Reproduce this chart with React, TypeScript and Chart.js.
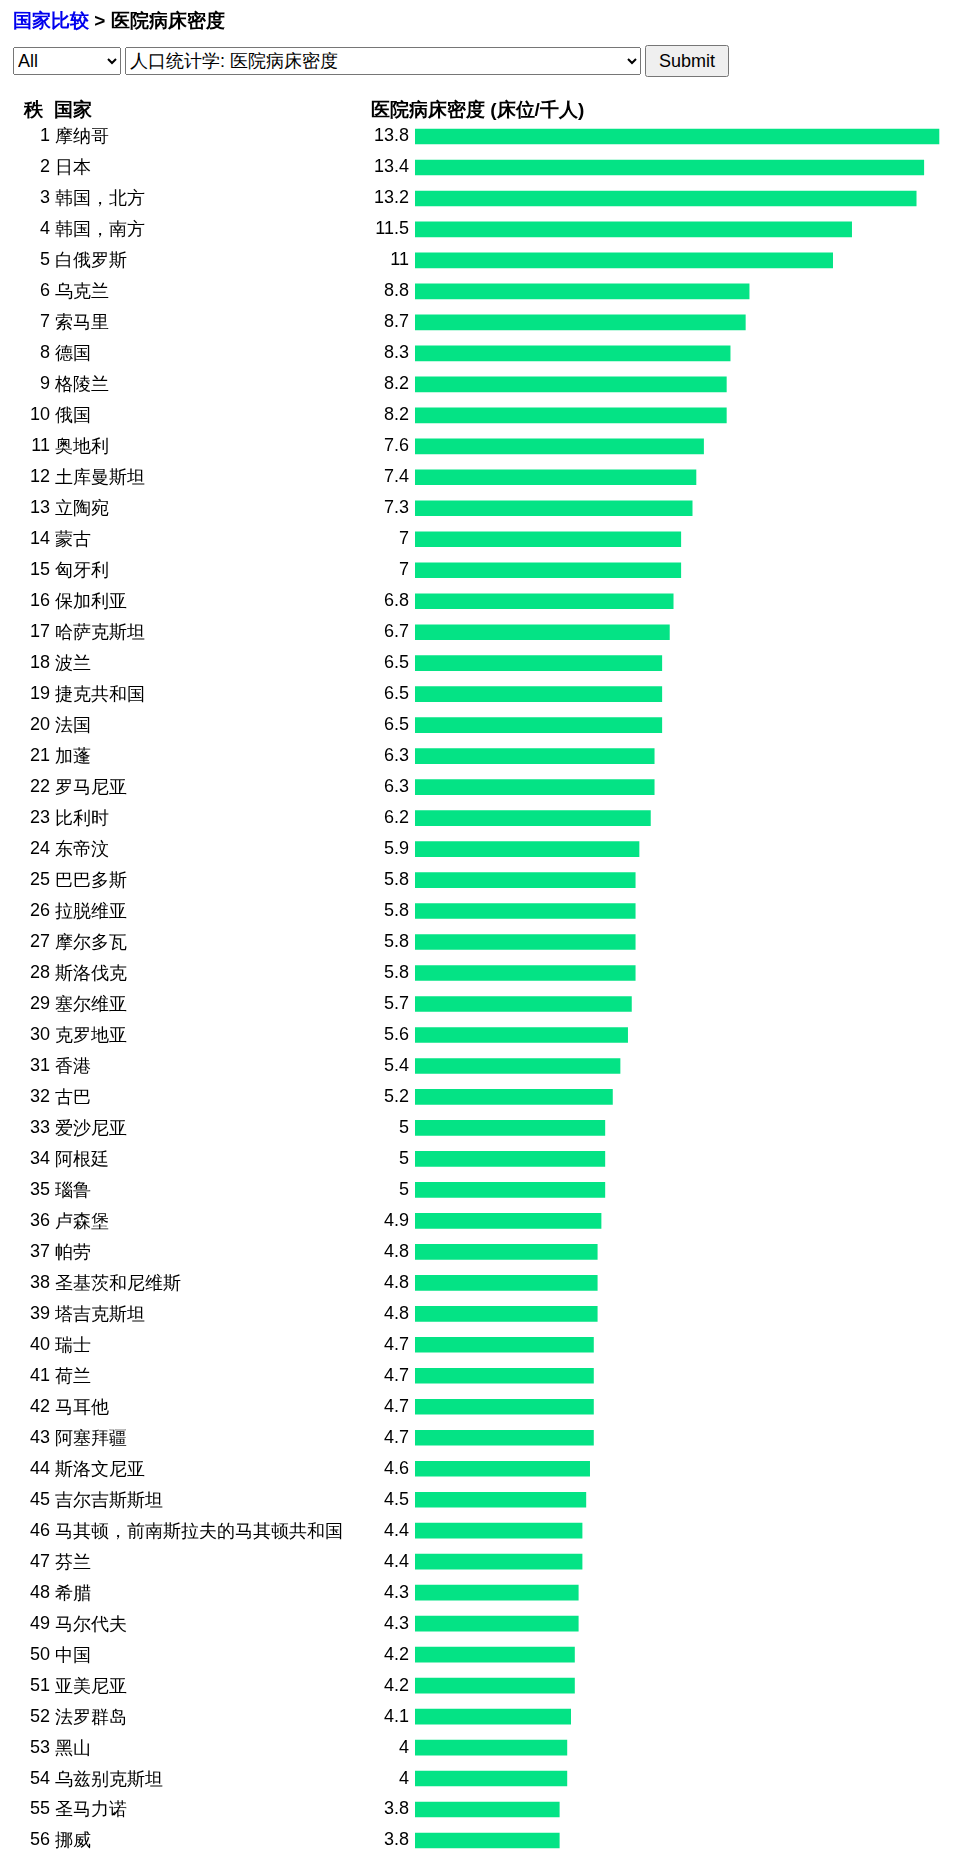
import React, { useEffect, useRef } from 'react';
import { Chart, registerables } from 'chart.js';

Chart.register(...registerables);

const ranks = Array.from({ length: 56 }, (_, i) => String(i + 1));

const countries = [
  '摩纳哥', '日本', '韩国，北方', '韩国，南方', '白俄罗斯', '乌克兰', '索马里', '德国', '格陵兰', '俄国',
  '奥地利', '土库曼斯坦', '立陶宛', '蒙古', '匈牙利', '保加利亚', '哈萨克斯坦', '波兰', '捷克共和国', '法国',
  '加蓬', '罗马尼亚', '比利时', '东帝汶', '巴巴多斯', '拉脱维亚', '摩尔多瓦', '斯洛伐克', '塞尔维亚', '克罗地亚',
  '香港', '古巴', '爱沙尼亚', '阿根廷', '瑙鲁', '卢森堡', '帕劳', '圣基茨和尼维斯', '塔吉克斯坦', '瑞士',
  '荷兰', '马耳他', '阿塞拜疆', '斯洛文尼亚', '吉尔吉斯斯坦', '马其顿，前南斯拉夫的马其顿共和国', '芬兰', '希腊', '马尔代夫', '中国',
  '亚美尼亚', '法罗群岛', '黑山', '乌兹别克斯坦', '圣马力诺', '挪威',
];

const beds = [
  13.8, 13.4, 13.2, 11.5, 11, 8.8, 8.7, 8.3, 8.2, 8.2,
  7.6, 7.4, 7.3, 7, 7, 6.8, 6.7, 6.5, 6.5, 6.5,
  6.3, 6.3, 6.2, 5.9, 5.8, 5.8, 5.8, 5.8, 5.7, 5.6,
  5.4, 5.2, 5, 5, 5, 4.9, 4.8, 4.8, 4.8, 4.7,
  4.7, 4.7, 4.7, 4.6, 4.5, 4.4, 4.4, 4.3, 4.3, 4.2,
  4.2, 4.1, 4, 4, 3.8, 3.8,
];

const FONT = '"Liberation Sans", Arial, sans-serif';

const rowLabels = {
  id: 'rowLabels',
  afterDraw(chart: Chart) {
    const ctx = chart.ctx;
    const y = chart.scales.y;
    ctx.save();
    ctx.font = `18px ${FONT}`;
    ctx.fillStyle = '#000';
    ctx.textBaseline = 'middle';
    countries.forEach((name, i) => {
      const py = y.getPixelForValue(i);
      ctx.textAlign = 'right';
      ctx.fillText(ranks[i], 50, py);
      ctx.fillText(String(beds[i]), 409, py);
      ctx.textAlign = 'left';
      ctx.fillText(name, 55, py + 1);
    });
    ctx.restore();
  },
};

const App: React.FC = () => {
  const canvasRef = useRef<HTMLCanvasElement | null>(null);

  useEffect(() => {
    if (!canvasRef.current) return;
    const chart = new Chart(canvasRef.current, {
      type: 'bar',
      data: {
        labels: countries,
        datasets: [
          {
            data: beds,
            backgroundColor: '#04e385',
            borderWidth: 0,
            barThickness: 15,
          },
        ],
      },
      options: {
        indexAxis: 'y',
        animation: false,
        responsive: false,
        layout: { padding: { left: 415, top: 121, right: 0, bottom: 5 } },
        plugins: { legend: { display: false }, tooltip: { enabled: false } },
        scales: {
          x: { display: false, min: 0, max: 14.67 },
          y: { display: false },
        },
      },
      plugins: [rowLabels],
    });
    return () => chart.destroy();
  }, []);

  return (
    <div style={{ position: 'absolute', left: 0, top: 0, width: 972, height: 1861, fontFamily: FONT }}>
      <canvas ref={canvasRef} width={972} height={1861} style={{ position: 'absolute', left: 0, top: 0 }} />
      <div style={{ position: 'absolute', left: 13, top: 8, fontSize: 19, fontWeight: 'bold' }}>
        <span style={{ color: '#0000ee' }}>国家比较</span> &gt; 医院病床密度
      </div>
      <div style={{ position: 'absolute', left: 13, top: 45, display: 'flex', gap: 4, alignItems: 'center' }}>
        <select style={{ width: 108, height: 28, fontSize: 18, fontFamily: FONT }}>
          <option>All</option>
        </select>
        <select style={{ width: 516, height: 28, fontSize: 18, fontFamily: FONT }}>
          <option>人口统计学: 医院病床密度</option>
        </select>
        <button style={{ height: 32, fontSize: 18, fontFamily: FONT, padding: '0 12px' }}>Submit</button>
      </div>
      <div style={{ position: 'absolute', left: 24, top: 97, fontSize: 19, fontWeight: 'bold' }}>秩&nbsp; 国家</div>
      <div style={{ position: 'absolute', left: 371, top: 97, fontSize: 19, fontWeight: 'bold' }}>医院病床密度 (床位/千人)</div>
    </div>
  );
};

export default App;
